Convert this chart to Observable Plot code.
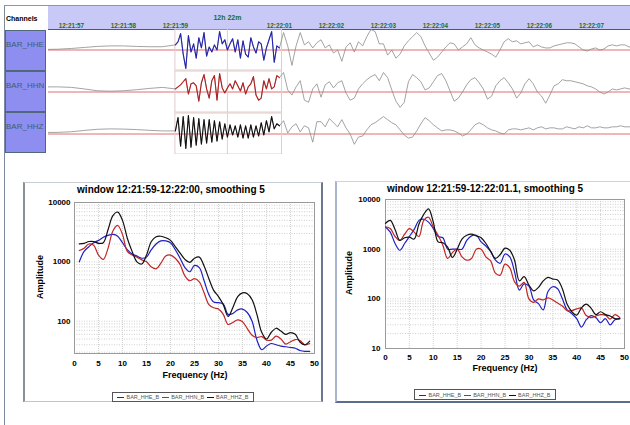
<!DOCTYPE html>
<html><head><meta charset="utf-8">
<script src="https://cdn.jsdelivr.net/npm/d3@7"></script>
<script src="https://cdn.jsdelivr.net/npm/@observablehq/plot@0.6"></script>
<style>
body{margin:0;background:#fff;font-family:"Liberation Sans",Arial,sans-serif;}
#root{position:relative;width:630px;height:425px;overflow:hidden;background:#fff;}
#root svg{position:absolute;}
.lg{position:absolute;display:flex;align-items:center;justify-content:space-around;box-sizing:border-box;border:1px solid #555;background:#fff;font-size:5.5px;color:#555;padding:0 3px;}
.lg span.k{display:inline-block;width:7px;height:1px;margin-right:2px;vertical-align:middle;}
</style></head><body><div id="root"></div>
<script>
// ---------------- DATA ----------------
const channels = ["BAR_HHE", "BAR_HHN", "BAR_HHZ"];
const traceColors = ["#2424b0", "#b42020", "#111111"];
// seismogram sampling (seconds after 12:21:00)
const quietStart = 56.5, quietStep = 0.25;
const windowStart = 59.0, windowStep = 0.05;
const codaStart = 61.0, codaStep = 0.08;
const selection = {start: 59.0, end: 61.05};
const markTime = 60, markLabel = "12h 22m";
const tickTimes = [57, 58, 59, 61, 62, 63, 64, 65, 66, 67];
const tickLabels = ["12:21:57", "12:21:58", "12:21:59", "12:22:01", "12:22:02", "12:22:03", "12:22:04", "12:22:05", "12:22:06", "12:22:07"];

const hheQuiet = [0.5, 0.8, 1.5, 2.5, 3.5, 4, 4, 3.5, 3.2, 3.2];
const hhnQuiet = [5, 5, 4.5, 3, 1.2, 0.8, 1.2, 2.2, 3.5, 4.5];
const hhzQuiet = [1.5, 1.6, 2.2, 3.5, 4.6, 5, 4.8, 4.3, 3.6, 3];

const hheWindow = [5, 8, 16, -4, -18, 14, -2, 6, -8, 12, 2, 17, -6, 3, -2, 5, 0, 18, 6, 10, 0, 6, 11, -2, 10, -8, 9, -4, -7, 12, 3, -3, 8, 6, -10, 2, 10, 18, -12, 4];
const hhnWindow = [3, 5, 7, 10, 13, -2, 8, 9, 6, -9, 9, 17, 3, -6, 11, 16, -8, 18, 4, -1, 4, 8, 3, 11, 6, 1, 9, -2, 5, 8, 15, -3, -8, -6, 11, 3, 13, 3, 5, 16];
const hhzWindow = [3, 16, -12, 17, -14, 18, -13, 16, -11, 15, -10, 14, -9, 14, -8, 13, -7, 12, -5, 10, -3, 9, -1, 8, -3, 9, -4, 8, -4, 9, -3, 8, -2, 11, -1, 13, 2, 17, 5, 10];

const hheCoda = [2, 17, 4, -15, 4, 17, 5, 8, 2, 7, 10, 2, 5, -3, 0, -11, 3, 7, -2, 8, 4, 13, 20, 18, 6, 6, -5, 0, -8, -4, 4, 9, 13, 17, 13, 4, -3, -10, -7, -2, 3, 7, 6, 0, 3, 6, 12, 5, 2, 0, -2, -4, -7, 0, 8, 11, 8, 9, 6, 7, 8, 3, 5, 3, 2, 2, 4, 5, 6, 7, 7, 6, 3, 0, -1, 1, 2, 0, 1, 4, 5, 4, 5, 5, 3, 3];
const hhnCoda = [14, 19, 2, -3, 5, 11, -8, -10, 3, 8, -5, 7, 10, 4, 9, 11, -1, -8, -6, 3, 8, 12, 15, 17, 11, 19, 14, 2, -9, -15, -10, 10, 17, 14, 10, 2, 4, 10, 16, 18, 11, 1, -9, -6, 0, 7, 12, 14, 9, 3, -7, -4, 6, 11, 14, 9, 3, -6, -1, 8, 13, 8, 0, -4, -11, -3, 6, 8, 12, 11, 11, 10, 9, 8, 6, 5, 3, 0, -2, 0, 3, 2, 3, 4, 3, 3];
const hhzCoda = [8, 13, 1, 7, 10, 2, 8, 6, -8, 12, 12, 7, 15, 11, 7, 14, 6, 0, -10, -3, -2, 4, 9, 11, 14, 17, 14, 11, 9, 4, -1, -4, -3, 3, 10, 16, 13, 9, 6, 3, 4, 4, 3, 1, -2, 0, 4, 9, 11, 9, 6, 4, 3, 1, 0, 4, 5, 5, 4, 5, 6, 4, 6, 7, 5, 6, 6, 5, 5, 7, 6, 5, 7, 6, 8, 6, 6, 7, 6, 6, 7, 7, 8, 7, 7, 7];

// spectra
const spectraSeries = ["BAR_HHE_B", "BAR_HHN_B", "BAR_HHZ_B"];
const spectraColors = ["#2020c0", "#c02626", "#111111"];
const leftTitle = "window 12:21:59-12:22:00, smoothing 5";
const rightTitle = "window 12:21:59-12:22:01.1, smoothing 5";
const leftFreqStart = 1, rightFreqStart = 0, freqStep = 1;
const hheLeft = [1000, 1500, 1800, 2100, 2300, 2600, 2800, 2900, 2700, 2100, 1600, 1350, 1250, 1150, 1200, 1600, 2000, 2250, 2250, 2100, 1600, 1150, 800, 680, 870, 800, 480, 280, 210, 205, 195, 130, 135, 155, 160, 140, 100, 48, 33, 38, 42, 40, 38, 37, 36, 35, 32, 31, 31];
const hhnLeft = [1550, 1700, 2000, 1900, 1300, 1100, 1700, 3300, 4100, 2900, 1500, 1300, 1200, 1080, 1000, 820, 760, 950, 1250, 1300, 1150, 900, 580, 480, 520, 460, 300, 190, 168, 160, 130, 88, 95, 105, 98, 75, 58, 53, 55, 48, 48, 56, 50, 41, 45, 49, 47, 40, 42];
const hhzLeft = [2000, 2050, 2200, 2200, 2050, 2100, 3500, 6000, 6900, 5000, 2500, 1500, 1000, 920, 1300, 2200, 2650, 2700, 2550, 2300, 1800, 1400, 1100, 980, 1150, 1200, 850, 520, 330, 260, 190, 120, 170, 260, 300, 290, 230, 130, 65, 50, 65, 76, 68, 60, 64, 60, 44, 40, 46];
const hheRight = [2800, 2200, 1300, 950, 1300, 1800, 2500, 3800, 4000, 3500, 2600, 1800, 1700, 1000, 1000, 1000, 1000, 1500, 1850, 1900, 1400, 1150, 900, 600, 520, 800, 700, 350, 150, 200, 180, 95, 80, 60, 140, 175, 160, 100, 60, 50, 40, 27, 38, 46, 42, 33, 40, 30, 38, 40];
const hhnRight = [2800, 2600, 1800, 1500, 2000, 2600, 2200, 1800, 3800, 4400, 2800, 1900, 1200, 650, 850, 1000, 700, 600, 650, 1000, 1000, 700, 580, 330, 300, 500, 420, 220, 180, 215, 100, 85, 100, 95, 105, 95, 82, 72, 58, 58, 63, 65, 46, 42, 45, 48, 47, 39, 48, 42];
const hhzRight = [3300, 3800, 2500, 1500, 1700, 1750, 1600, 3200, 5000, 6500, 3500, 1400, 1350, 1100, 680, 1000, 1600, 1900, 2000, 1850, 1700, 1300, 900, 650, 780, 1050, 950, 600, 230, 280, 190, 145, 170, 230, 270, 250, 240, 160, 78, 55, 47, 66, 78, 65, 48, 55, 48, 45, 40, 40];
const freqTicks = [0, 5, 10, 15, 20, 25, 30, 35, 40, 45, 50];

// ---------------- BUILD ----------------
const root = document.getElementById("root");
function box(css) { const d = document.createElement("div"); d.style.position = "absolute"; Object.assign(d.style, css); root.append(d); return d; }
function label(txt, cx, cy, o = {}) {
  const d = box({left: cx + "px", top: cy + "px", transform: `translate(-50%,-50%) rotate(${o.rotate || 0}deg)`,
    fontSize: (o.size || 9) + "px", fontWeight: o.weight || "bold", color: o.color || "#000", whiteSpace: "nowrap", lineHeight: "1"});
  d.textContent = txt; return d;
}
function place(svg, left, top) { svg.style.left = left + "px"; svg.style.top = top + "px"; root.append(svg); }

// frame lines & header
box({left: "4px", top: "5px", width: "1px", height: "420px", background: "#7d8aa0"});
box({left: "4px", top: "5px", width: "626px", height: "1px", background: "#8c96a8"});
box({left: "48px", top: "6px", width: "582px", height: "23px", background: "#c9c9f8"});
box({left: "48px", top: "29px", width: "582px", height: "1px", background: "#2f6f4f"});
label("Channels", 6, 18, {size: 7}).style.transform = "translate(0,-50%)";
const rowTops = [30, 71, 112];
rowTops.forEach((t, i) => {
  box({left: "5px", top: t + "px", width: "41px", height: "41px", background: "#8e8ef0", border: "1px solid #51677a", boxSizing: "border-box"});
  const l = label(channels[i], 6, t + 15, {size: 8, weight: "normal", color: "#3a6070"});
  l.style.transform = "translate(0,-50%)";
});

// seismogram records
const records = [];
const sets = [[hheQuiet, hheWindow, hheCoda], [hhnQuiet, hhnWindow, hhnCoda], [hhzQuiet, hhzWindow, hhzCoda]];
sets.forEach(([q, w, c], k) => {
  q.forEach((v, i) => records.push({ch: channels[k], t: quietStart + i * quietStep, v, part: "q"}));
  w.forEach((v, i) => records.push({ch: channels[k], t: windowStart + i * windowStep, v, part: "w"}));
  c.forEach((v, i) => records.push({ch: channels[k], t: codaStart + i * codaStep, v, part: "c"}));
});
const xDomain = [56.56, 67.75];

const header = Plot.plot({
  width: 582, height: 23, margin: 0,
  x: {domain: xDomain, axis: null},
  style: {background: "transparent", fontFamily: "Liberation Sans, Arial, sans-serif"},
  marks: [
    Plot.ruleX([markTime], {x: d => d, stroke: "#dcc6c6", insetTop: 15}),
    Plot.text(tickTimes, {x: d => d, text: tickLabels, frameAnchor: "bottom", lineAnchor: "middle", dy: -4, fill: "#1d6b2e", fontWeight: "bold", fontSize: 6.3}),
    Plot.text([markTime], {x: d => d, text: [markLabel], frameAnchor: "top", lineAnchor: "middle", dy: 11.5, fill: "#1d6b2e", fontWeight: "bold", fontSize: 7})
  ]
});
place(header, 48, 6);

const traces = Plot.plot({
  width: 582, height: 125, marginTop: 0, marginBottom: 0, marginLeft: 0, marginRight: 0,
  x: {domain: xDomain, axis: null},
  y: {domain: [-20, 20], axis: null},
  fy: {domain: channels, axis: null, padding: 0.03},
  color: {domain: channels, range: traceColors},
  facet: {data: records, y: "ch"},
  style: {background: "transparent"},
  marks: [
    Plot.ruleY([0], {stroke: "#e46c6c", strokeWidth: 1}),
    Plot.rect([selection], {x1: "start", x2: "end", stroke: "#e2cccc", fill: "none"}),
    Plot.ruleX([markTime], {x: d => d, stroke: "#e2cccc"}),
    Plot.line(records, {x: "t", y: "v", z: "ch", stroke: "#8c8c8c", strokeWidth: 0.8, clip: true}),
    Plot.line(records, {filter: d => d.part === "w" || d.t === codaStart, x: "t", y: "v", z: "ch", stroke: "ch", strokeWidth: 1.1, clip: true})
  ]
});
place(traces, 48, 29);

// panels
box({left: "23px", top: "182px", width: "300px", height: "220px", borderLeft: "2px solid #8a9098", borderTop: "1px solid #c8ccd4", borderRight: "2px solid #6a7892", borderBottom: "1px solid #c0c4cc", boxSizing: "border-box"});
box({left: "335px", top: "181px", width: "300px", height: "222px", borderLeft: "2px solid #a8b4d0", borderTop: "1px solid #d0d4dc", borderBottom: "2px solid #5c6c8c", boxSizing: "border-box"});

function spectrum(o) {
  const rows = [];
  o.series.forEach((arr, k) => arr.forEach((a, i) => rows.push({s: spectraSeries[k], f: o.f0 + i * freqStep, a})));
  const minor = [];
  [10, 100, 1000].forEach(dec => [1, 2, 3, 4, 5, 6, 7, 8, 9].forEach(m => { const v = dec * m; if (v > o.yDomain[0] && v < o.yDomain[1]) minor.push(v); }));
  return Plot.plot({
    width: o.width, height: o.height,
    marginLeft: o.ml, marginRight: o.mr, marginTop: o.mt, marginBottom: o.mb,
    x: {domain: [0, 50], ticks: freqTicks, tickSize: 0, tickPadding: o.xpad, label: null},
    y: {type: "log", domain: o.yDomain, ticks: o.yTicks, tickFormat: d => String(d), tickSize: 0, tickPadding: o.ypad, label: null},
    color: {domain: spectraSeries, range: spectraColors},
    style: {background: "transparent", fontFamily: "Liberation Sans, Arial, sans-serif", fontSize: "8px", fontWeight: "bold", color: "#000"},
    marks: [
      Plot.ruleY(minor, {stroke: "#c4c4c4", strokeDasharray: "1,1.5", strokeWidth: 0.8}),
      Plot.ruleX(freqTicks.slice(1, -1), {stroke: "#c8c8c8", strokeDasharray: "1,1", strokeWidth: 0.8}),
      Plot.frame({stroke: "#9a9a9a"}),
      Plot.line(rows, {x: "f", y: "a", z: "s", stroke: "s", strokeWidth: 1.2, curve: "catmull-rom"})
    ]
  });
}
place(spectrum({series: [hheLeft, hhnLeft, hhzLeft], f0: leftFreqStart, width: 298, height: 200, ml: 50, mr: 8, mt: 19, mb: 30, yDomain: [28.5, 10000], yTicks: [100, 1000, 10000], xpad: 7, ypad: 4}), 24, 183);
place(spectrum({series: [hheRight, hhnRight, hhzRight], f0: rightFreqStart, width: 294, height: 200, ml: 49, mr: 6, mt: 19, mb: 32, yDomain: [10, 10000], yTicks: [10, 100, 1000, 10000], xpad: 6, ypad: 5}), 336, 180);

label(leftTitle, 171, 190, {size: 10});
label(rightTitle, 485, 189, {size: 10});
label("Amplitude", 40, 277, {size: 9, rotate: -90});
label("Amplitude", 349, 273, {size: 9, rotate: -90});
label("Frequency (Hz)", 195, 375, {size: 9});
label("Frequency (Hz)", 505, 368, {size: 9});

function legend(left, top, w, h) {
  const d = box({left: left + "px", top: top + "px", width: w + "px", height: h + "px"});
  d.className = "lg";
  spectraSeries.forEach((s, i) => {
    const it = document.createElement("div");
    it.innerHTML = `<span class="k" style="background:${spectraColors[i]}"></span>${s}`;
    d.append(it);
  });
}
legend(112, 392, 142, 10);
legend(414, 389, 142, 11);
</script></body></html>
